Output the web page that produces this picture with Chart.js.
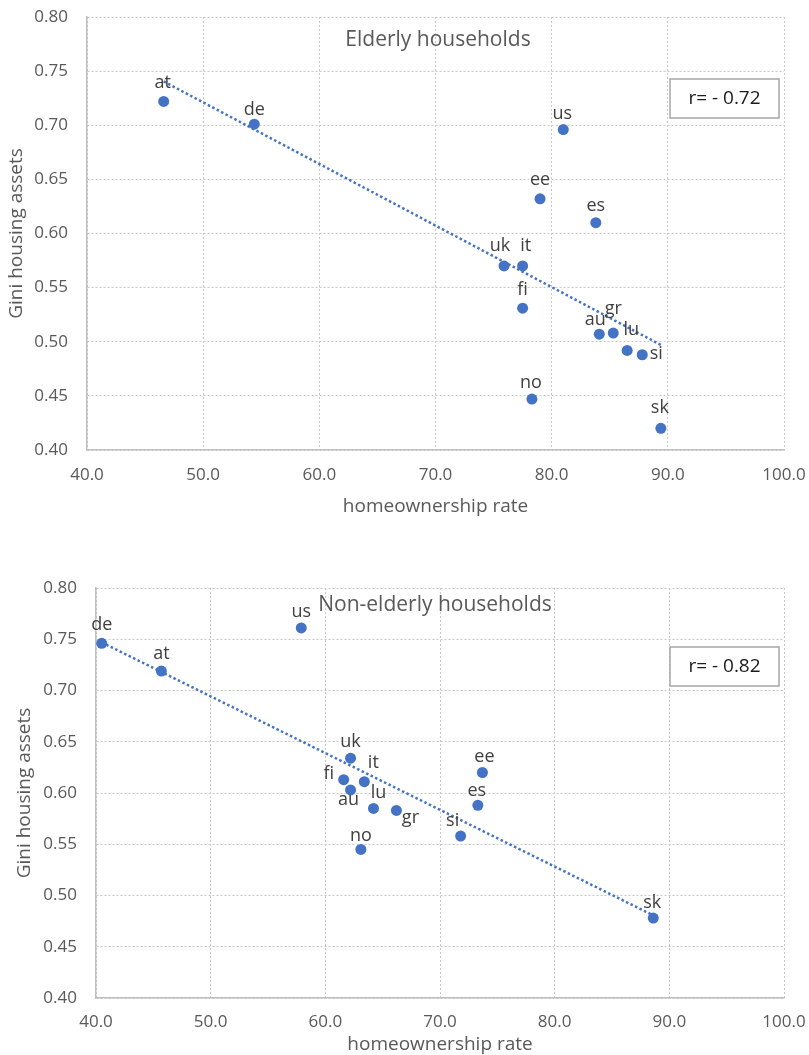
<!DOCTYPE html>
<html>
<head>
<meta charset="utf-8">
<script src="https://cdn.jsdelivr.net/npm/chart.js@4"></script>
<style>
  html, body { margin: 0; padding: 0; background: #ffffff; }
  body { width: 809px; height: 1055px; position: relative; overflow: hidden; }
  .wrap { position: absolute; left: 0; width: 809px; }
  #w1 { top: 0; height: 530px; }
  #w2 { top: 530px; height: 525px; }
  canvas { display: block; }
</style>
</head>
<body>
<div class="wrap" id="w1"><canvas id="c1" width="809" height="530"></canvas></div>
<div class="wrap" id="w2"><canvas id="c2" width="809" height="525"></canvas></div>
<script>
// ---- Data: elderly households ----
const countriesElderly = ['at','de','us','ee','es','uk','it','fi','au','gr','lu','si','no','sk'];
const ownershipElderly = [46.6, 54.4, 81.0, 79.0, 83.8, 75.9, 77.5, 77.5, 84.1, 85.3, 86.5, 87.8, 78.3, 89.4];
const giniElderly      = [0.722, 0.701, 0.696, 0.632, 0.610, 0.570, 0.570, 0.531, 0.507, 0.508, 0.492, 0.488, 0.447, 0.420];

// ---- Data: non-elderly households ----
const countriesNonElderly = ['de','at','us','uk','fi','it','au','lu','gr','no','si','es','ee','sk'];
const ownershipNonElderly = [40.5, 45.7, 57.9, 62.2, 61.6, 63.4, 62.2, 64.2, 66.2, 63.1, 71.8, 73.3, 73.7, 88.6];
const giniNonElderly      = [0.746, 0.719, 0.761, 0.634, 0.613, 0.611, 0.603, 0.585, 0.583, 0.545, 0.558, 0.588, 0.620, 0.478];

// ---- Axis / text ----
const xTickValues = [40, 50, 60, 70, 80, 90, 100];
const yTickValues = [0.40, 0.45, 0.50, 0.55, 0.60, 0.65, 0.70, 0.75, 0.80];
const xAxisTitle = 'homeownership rate';
const yAxisTitle = 'Gini housing assets';
const titleElderly = 'Elderly households';
const titleNonElderly = 'Non-elderly households';
const rElderly = 'r= - 0.72';
const rNonElderly = 'r= - 0.82';

// label placement (styling, px offsets from the point)
const labelOffsetsElderly = {
  at:[-1,-19], de:[0,-14], us:[-1,-16], ee:[0,-19], es:[0,-17], uk:[-4,-20], it:[3,-20],
  fi:[0,-18], au:[-4,-14], gr:[0,-24], lu:[4,-21], si:[14,-1], no:[-1,-16], sk:[-1,-20]
};
const labelOffsetsNonElderly = {
  de:[0,-18], at:[0,-17], us:[0,-16], uk:[0,-16], it:[9,-19], fi:[-15,-6], au:[-2,10],
  lu:[5,-16], gr:[14,7], no:[0,-14], si:[-8,-15], es:[-1,-14], ee:[2,-16], sk:[-1,-15]
};

const BLUE = '#4472C4';
const TXT = '#595959';
const FONT = '"Open Sans", sans-serif';

function trend(xs, ys) {
  const n = xs.length;
  const mx = xs.reduce((a,b)=>a+b,0)/n, my = ys.reduce((a,b)=>a+b,0)/n;
  let sxy = 0, sxx = 0;
  for (let i=0;i<n;i++){ sxy += (xs[i]-mx)*(ys[i]-my); sxx += (xs[i]-mx)*(xs[i]-mx); }
  const b = sxy/sxx, a = my - b*mx;
  const x0 = Math.min(...xs), x1 = Math.max(...xs);
  return [{x:x0, y:a+b*x0}, {x:x1, y:a+b*x1}];
}

const decorPlugin = {
  id: 'decor',
  afterDatasetsDraw(chart, args, o) {
    const ctx = chart.ctx;
    const ca = chart.chartArea;
    const meta = chart.getDatasetMeta(1);
    ctx.save();
    // title
    ctx.font = '21px ' + FONT;
    ctx.fillStyle = TXT;
    ctx.textAlign = 'center';
    ctx.textBaseline = 'alphabetic';
    ctx.fillText(o.title, o.titleX, ca.top + o.titleDy);
    // r box
    const bx = ca.right - 5 - 109, by = ca.top + o.boxDy;
    ctx.fillStyle = '#ffffff';
    ctx.fillRect(bx, by, 109, 39);
    ctx.strokeStyle = '#A6A6A6';
    ctx.lineWidth = 1.5;
    ctx.strokeRect(bx, by, 109, 39);
    ctx.fillStyle = '#1a1a1a';
    ctx.font = '19px ' + FONT;
    ctx.textBaseline = 'middle';
    ctx.fillText(o.rText, bx + 54.5, by + 20);
    // point labels
    ctx.font = '18px ' + FONT;
    ctx.fillStyle = '#404040';
    meta.data.forEach((el, i) => {
      const lab = o.labels[i];
      const off = o.offsets[lab] || [0, -17];
      ctx.fillText(lab, el.x + off[0], el.y + off[1]);
    });
    ctx.restore();
  }
};

function makeChart(id, xs, ys, labels, offsets, cfg) {
  const pts = xs.map((x, i) => ({x: x, y: ys[i]}));
  return new Chart(document.getElementById(id), {
    type: 'scatter',
    data: {
      datasets: [
        {
          type: 'line',
          data: trend(xs, ys),
          borderColor: BLUE,
          borderWidth: 2.5,
          borderDash: [2.5, 2.5],
          pointRadius: 0,
          fill: false,
          order: 2
        },
        {
          data: pts,
          backgroundColor: BLUE,
          borderColor: BLUE,
          borderWidth: 0,
          pointRadius: 5.5,
          pointHoverRadius: 5.5,
          order: 1
        }
      ]
    },
    options: {
      responsive: false,
      animation: false,
      devicePixelRatio: 1,
      clip: false,
      layout: { padding: { left: 0, top: cfg.padTop, right: 25, bottom: cfg.padBottom } },
      plugins: {
        legend: { display: false },
        tooltip: { enabled: false },
        decor: {
          title: cfg.title, titleX: cfg.titleX, titleDy: cfg.titleDy,
          rText: cfg.rText, boxDy: cfg.boxDy,
          labels: labels, offsets: offsets
        }
      },
      scales: {
        x: {
          type: 'linear',
          min: 40, max: 100,
          afterBuildTicks: (s) => { s.ticks = xTickValues.map(v => ({value: v})); },
          afterFit: (s) => { s.height = cfg.xHeight; s.paddingLeft = 0; s.paddingRight = 0; },
          ticks: {
            callback: (v) => Number(v).toFixed(1),
            color: TXT, font: { family: FONT, size: 17 }, padding: cfg.xTickPad, maxRotation: 0
          },
          grid: { color: '#C8C8C8', lineWidth: 1, drawTicks: false },
          border: { display: true, color: '#BFBFBF', width: 1.5, dash: [2, 2] },
          title: { display: true, text: xAxisTitle, color: TXT, font: { family: FONT, size: 19, lineHeight: 1.0 }, padding: 0 }
        },
        y: {
          type: 'linear',
          min: 0.4, max: 0.8,
          afterBuildTicks: (s) => { s.ticks = yTickValues.map(v => ({value: v})); },
          afterFit: (s) => { s.width = cfg.yWidth; s.paddingTop = 0; s.paddingBottom = 0; },
          ticks: {
            callback: (v) => Number(v).toFixed(2),
            color: TXT, font: { family: FONT, size: 17 }, padding: 19
          },
          grid: { color: '#C8C8C8', lineWidth: 1, drawTicks: false },
          border: { display: true, color: '#BFBFBF', width: 1.5, dash: [2, 2] },
          title: { display: true, text: yAxisTitle, color: TXT, font: { family: FONT, size: 19 }, padding: { top: cfg.yTitlePad, bottom: 0 } }
        }
      }
    },
    plugins: [decorPlugin]
  });
}

makeChart('c1', ownershipElderly, giniElderly, countriesElderly, labelOffsetsElderly, {
  padTop: 17, padBottom: 14, xHeight: 66, yWidth: 87, yTitlePad: 5, xTickPad: 15,
  title: titleElderly, titleX: 438, titleDy: 29, rText: rElderly, boxDy: 62
});
makeChart('c2', ownershipNonElderly, giniNonElderly, countriesNonElderly, labelOffsetsNonElderly, {
  padTop: 58, padBottom: 1, xHeight: 56, yWidth: 96, yTitlePad: 13, xTickPad: 14,
  title: titleNonElderly, titleX: 435, titleDy: 23, rText: rNonElderly, boxDy: 59
});
</script>
</body>
</html>
